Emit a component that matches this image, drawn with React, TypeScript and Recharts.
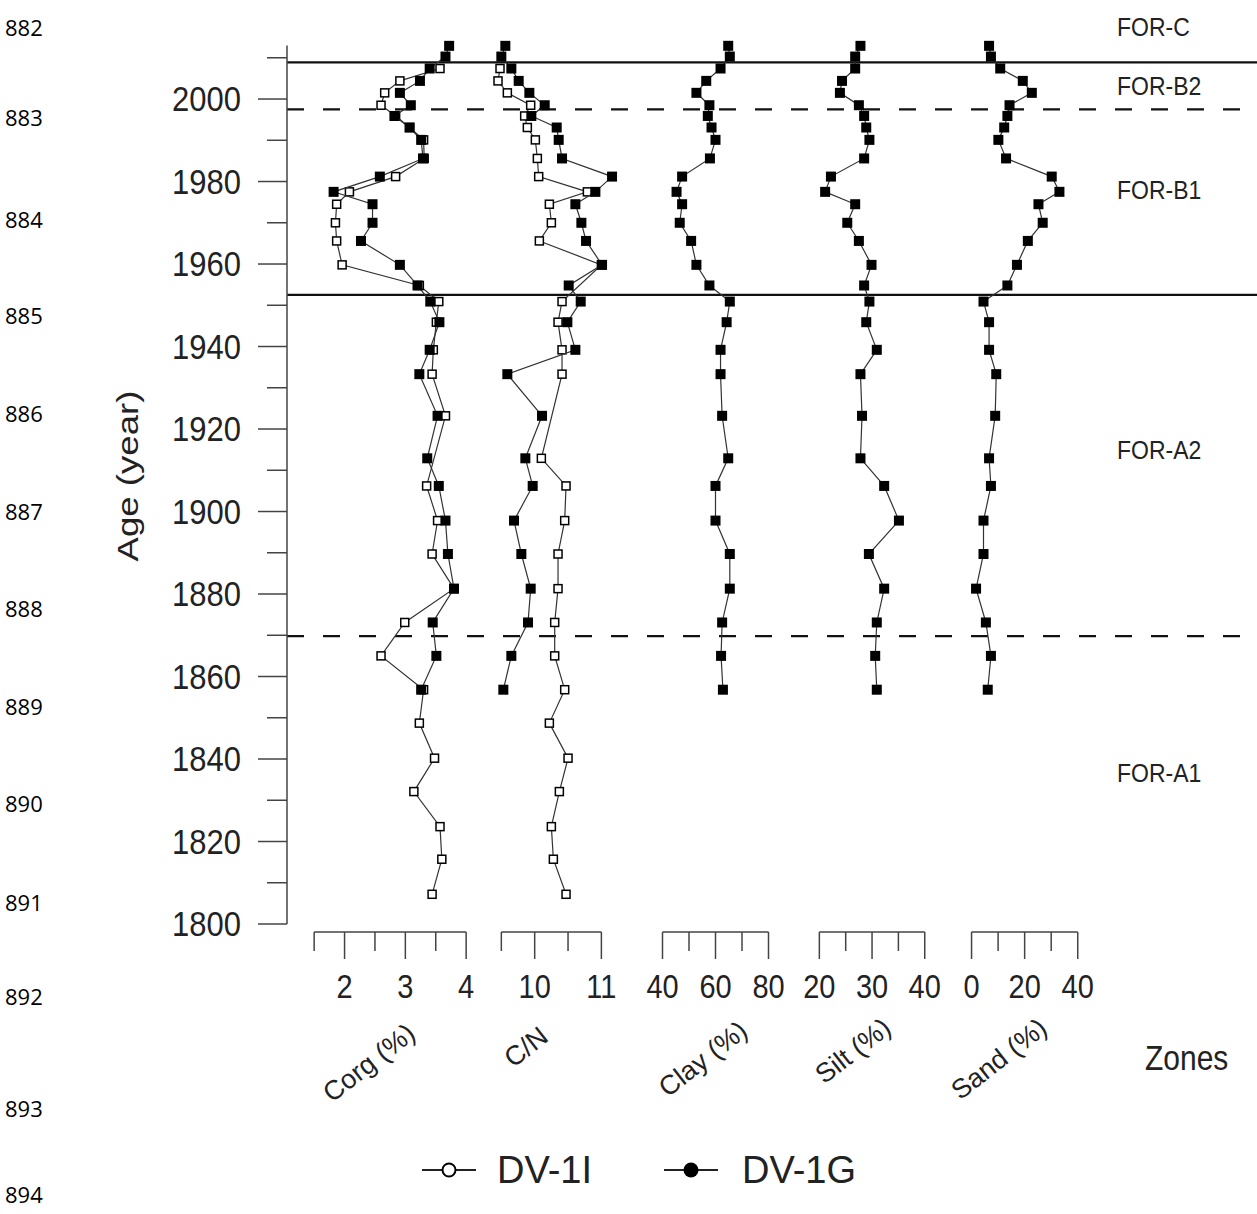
import React from 'react'
import { ScatterChart, Scatter, XAxis, YAxis, ReferenceLine } from 'recharts'

// ages (yr AD) of DV-1G samples, same for all five panels
const ageG = [2012.9, 2010.3, 2007.4, 2004.4, 2001.5, 1998.5, 1995.9, 1993.1, 1990.1, 1985.6, 1981.2, 1977.5, 1974.5, 1970.0, 1965.6, 1959.8, 1954.8, 1950.9, 1945.9, 1939.2, 1933.3, 1923.2, 1912.9, 1906.2, 1897.8, 1889.7, 1881.3, 1873.1, 1865.0, 1856.8]
const corgG = [3.72, 3.66, 3.40, 3.24, 2.91, 3.09, 2.82, 3.07, 3.26, 3.29, 2.58, 1.82, 2.46, 2.46, 2.27, 2.91, 3.20, 3.41, 3.56, 3.40, 3.23, 3.53, 3.36, 3.55, 3.66, 3.70, 3.80, 3.45, 3.51, 3.26]
const cnG = [9.56, 9.50, 9.65, 9.76, 9.92, 10.15, 9.95, 10.33, 10.36, 10.41, 11.16, 10.91, 10.61, 10.70, 10.77, 11.01, 10.51, 10.69, 10.49, 10.61, 9.59, 10.11, 9.86, 9.97, 9.69, 9.80, 9.94, 9.90, 9.65, 9.53]
const clayG = [64.8, 65.4, 61.9, 56.5, 52.8, 57.7, 57.1, 58.5, 60.0, 57.9, 47.4, 45.3, 47.4, 46.5, 50.8, 52.8, 57.7, 65.4, 64.2, 61.9, 61.9, 62.5, 64.8, 60.0, 60.0, 65.4, 65.4, 62.5, 62.1, 62.8]
const siltG = [27.8, 26.8, 26.8, 24.3, 23.9, 27.5, 28.5, 28.9, 29.5, 28.5, 22.2, 21.1, 26.8, 25.3, 27.5, 29.9, 28.5, 29.5, 28.9, 30.9, 27.8, 28.1, 27.8, 32.3, 35.1, 29.4, 32.3, 30.9, 30.6, 30.9]
const sandG = [6.6, 7.3, 10.8, 19.3, 22.7, 14.3, 13.5, 12.3, 10.1, 13.0, 30.2, 33.1, 25.2, 26.8, 21.2, 17.1, 13.5, 4.5, 6.6, 6.6, 9.3, 8.9, 6.6, 7.3, 4.5, 4.5, 1.7, 5.4, 7.3, 6.1]

// DV-1I core (Corg and C/N only)
const ageICorg = [2007.4, 2004.4, 2001.5, 1998.5, 1995.9, 1993.1, 1990.1, 1985.6, 1981.2, 1977.5, 1974.5, 1970.0, 1965.6, 1959.8, 1954.8, 1950.9, 1945.9, 1939.2, 1933.3, 1923.2, 1906.2, 1897.8, 1889.7, 1881.3, 1873.1, 1865.0, 1856.8, 1848.7, 1840.2, 1832.1, 1823.6, 1815.7, 1807.2]
const corgI = [3.57, 2.91, 2.66, 2.60, 2.84, 3.07, 3.30, 3.31, 2.84, 2.08, 1.87, 1.85, 1.87, 1.96, 3.23, 3.55, 3.51, 3.46, 3.44, 3.66, 3.35, 3.53, 3.44, 3.80, 2.99, 2.60, 3.30, 3.23, 3.48, 3.14, 3.57, 3.60, 3.44]
const ageICn = [2007.4, 2004.4, 2001.5, 1998.5, 1995.9, 1993.1, 1990.1, 1985.6, 1981.2, 1977.5, 1974.5, 1970.0, 1965.6, 1959.8, 1950.9, 1945.9, 1939.2, 1933.3, 1912.9, 1906.2, 1897.8, 1889.7, 1881.3, 1873.1, 1865.0, 1856.8, 1848.7, 1840.2, 1832.1, 1823.6, 1815.7, 1807.2]
const cnI = [9.48, 9.45, 9.59, 9.94, 9.85, 9.89, 10.01, 10.04, 10.06, 10.79, 10.22, 10.25, 10.07, 11.00, 10.41, 10.35, 10.41, 10.41, 10.10, 10.47, 10.45, 10.35, 10.35, 10.30, 10.30, 10.45, 10.22, 10.50, 10.37, 10.25, 10.28, 10.47]

const ageTicks = [1800, 1810, 1820, 1830, 1840, 1850, 1860, 1870, 1880, 1890, 1900, 1910, 1920, 1930, 1940, 1950, 1960, 1970, 1980, 1990, 2000, 2010]
const ageLabels = [1800, 1820, 1840, 1860, 1880, 1900, 1920, 1940, 1960, 1980, 2000]

const zoneBounds = [2008.9, 1997.5, 1952.5, 1869.8]
const zoneDashed = [false, true, false, true]
const zoneNames = ['FOR-C', 'FOR-B2', 'FOR-B1', 'FOR-A2', 'FOR-A1']
const lineNumbers = [882, 883, 884, 885, 886, 887, 888, 889, 890, 891, 892, 893, 894]

const W = 1257
const H = 1214
const FONT = "'Liberation Sans', Arial, Helvetica, sans-serif"
const INK = '#222'
const AXIS = '#444'
const STRETCH = 1.15 // figure text looks taller than wide

const PX_YEAR = 4.125
const AGE_TOP = 2013
const PLOT_TOP = 45.4
const PLOT_BOTTOM = 924
const PANEL_BOTTOM = 932 // bottom axes sit a little below the age axis end
const PANEL_AGE_MIN = 1800 - (PANEL_BOTTOM - PLOT_BOTTOM) / PX_YEAR

// panel layout: pixel of a reference value, pixels per unit, drawn domain
const panels = [
  { key: 'corg', title: 'Corg (%)', ref: 2, refPx: 345, pxUnit: 60.8, lo: 1.3, hi: 4.3, ticks: [1.5, 2, 2.5, 3, 3.5, 4], labels: [2, 3, 4], g: corgG, iAge: ageICorg, i: corgI, tx: 369, ty: 1063 },
  { key: 'cn', title: 'C/N', ref: 10, refPx: 534.3, pxUnit: 66.7, lo: 9.3, hi: 11.4, ticks: [9.5, 10, 10.5, 11], labels: [10, 11], g: cnG, iAge: ageICn, i: cnI, tx: 526, ty: 1047 },
  { key: 'clay', title: 'Clay (%)', ref: 40, refPx: 662, pxUnit: 2.65, lo: 30, hi: 90, ticks: [40, 50, 60, 70, 80], labels: [40, 60, 80], g: clayG, tx: 703, ty: 1059 },
  { key: 'silt', title: 'Silt (%)', ref: 20, refPx: 819, pxUnit: 5.27, lo: 15, hi: 45, ticks: [20, 25, 30, 35, 40], labels: [20, 30, 40], g: siltG, tx: 853, ty: 1051 },
  { key: 'sand', title: 'Sand (%)', ref: 0, refPx: 971.4, pxUnit: 2.655, lo: -10, hi: 50, ticks: [0, 10, 20, 30, 40], labels: [0, 20, 40], g: sandG, tx: 999, ty: 1059 },
]

const pairs = (ages: number[], vals: number[]) => ages.map((age, k) => ({ age, v: vals[k] }))

const FilledSquare = (p: any) => (
  <rect x={p.cx - 5} y={p.cy - 5} width={10} height={10} fill="#000" />
)
const OpenSquare = (p: any) => (
  <rect x={p.cx - 4} y={p.cy - 4} width={8} height={8} fill="#fff" stroke="#000" strokeWidth={1.5} />
)

const AgeTick = ({ x, y, payload }: any) => {
  const major = ageLabels.includes(payload.value)
  return (
    <g>
      <line x1={x - (major ? 29 : 20)} x2={x} y1={y} y2={y} stroke={AXIS} strokeWidth={1.5} />
      {major && (
        <text transform={`translate(${x - 46} ${y}) scale(1 ${STRETCH})`} textAnchor="end" dominantBaseline="central" fontFamily={FONT} fontSize={31} fill={INK}>
          {payload.value}
        </text>
      )}
    </g>
  )
}

const makeBottomTick = (labels: number[]) => ({ x, y, payload }: any) => {
  const major = labels.includes(payload.value)
  return (
    <g>
      <line x1={x} x2={x} y1={y} y2={y + (major ? 27 : 19)} stroke={AXIS} strokeWidth={1.5} />
      {major && (
        <text transform={`translate(${x} ${y + 55}) scale(1 ${STRETCH})`} textAnchor="middle" dominantBaseline="central" fontFamily={FONT} fontSize={29} fill={INK}>
          {payload.value}
        </text>
      )}
    </g>
  )
}

function Panel({ p }: { p: typeof panels[number] }) {
  const left = p.refPx - (p.ref - p.lo) * p.pxUnit
  const width = (p.hi - p.lo) * p.pxUnit
  const xAxisH = 80
  return (
    <div style={{ position: 'absolute', left, top: 0 }}>
      <ScatterChart width={width} height={H} margin={{ top: PLOT_TOP, right: 0, bottom: H - PANEL_BOTTOM - xAxisH, left: 0 }}>
        <XAxis
          type="number"
          dataKey="v"
          domain={[p.lo, p.hi]}
          ticks={p.ticks}
          interval={0}
          axisLine={false}
          tickLine={false}
          tickSize={0}
          tickMargin={0}
          height={xAxisH}
          tick={makeBottomTick(p.labels)}
        />
        <YAxis type="number" dataKey="age" domain={[PANEL_AGE_MIN, AGE_TOP]} hide />
        <ReferenceLine
          segment={[{ x: p.ticks[0], y: PANEL_AGE_MIN }, { x: p.ticks[p.ticks.length - 1], y: PANEL_AGE_MIN }]}
          stroke={AXIS}
          strokeWidth={1.5}
          ifOverflow="visible"
        />
        {p.i && (
          <Scatter
            data={pairs(p.iAge, p.i)}
            line={{ stroke: '#333', strokeWidth: 1.2 }}
            lineType="joint"
            shape={OpenSquare}
            isAnimationActive={false}
          />
        )}
        <Scatter
          data={pairs(ageG, p.g)}
          line={{ stroke: '#333', strokeWidth: 1.2 }}
          lineType="joint"
          shape={FilledSquare}
          isAnimationActive={false}
        />
      </ScatterChart>
    </div>
  )
}

const zoneLabelY = [27, 86, 190, 450, 773]
const lineNumberY = [27, 117, 219, 315, 413, 511, 608, 706, 803, 902, 996, 1108, 1194]

export default function App() {
  return (
    <div style={{ position: 'absolute', left: 0, top: 0, width: W, height: H, background: '#fff' }}>
      <div style={{ position: 'absolute', left: 0, top: 0 }}>
        <ScatterChart width={W} height={H} margin={{ top: PLOT_TOP, right: 0, bottom: H - PLOT_BOTTOM, left: 0 }}>
          <XAxis type="number" dataKey="v" domain={[0, 1]} allowDataOverflow hide />
          <YAxis
            type="number"
            dataKey="age"
            domain={[1800, AGE_TOP]}
            allowDataOverflow
            ticks={ageTicks}
            interval={0}
            width={287}
            stroke={AXIS}
            strokeWidth={1.5}
            tickLine={false}
            tickSize={0}
            tickMargin={0}
            tick={AgeTick}
          />
          {zoneBounds.map((y, k) => (
            <ReferenceLine
              key={y}
              y={y}
              stroke="#111"
              strokeWidth={2.2}
              strokeDasharray={zoneDashed[k] ? '17 19' : undefined}
              ifOverflow="visible"
            />
          ))}
        </ScatterChart>
      </div>

      {panels.map((p) => (
        <Panel key={p.key} p={p} />
      ))}

      <svg width={W} height={H} style={{ position: 'absolute', left: 0, top: 0, pointerEvents: 'none' }}>
        {lineNumbers.map((n, k) => (
          <text key={n} x={5} y={lineNumberY[k]} dominantBaseline="central" fontFamily="'Open Sans', sans-serif" fontSize={22} fill="#000">
            {n}
          </text>
        ))}
        <text transform="translate(128 476) scale(1 1.22) rotate(-90)" textAnchor="middle" dominantBaseline="central" fontFamily={FONT} fontSize={30} fill={INK}>
          Age (year)
        </text>
        {zoneNames.map((z, k) => (
          <text key={z} transform={`translate(1117 ${zoneLabelY[k]}) scale(1 ${STRETCH})`} dominantBaseline="central" fontFamily={FONT} fontSize={23} fill={INK}>
            {z}
          </text>
        ))}
        {panels.map((p) => (
          <text key={p.key} transform={`translate(${p.tx} ${p.ty}) rotate(-38)`} textAnchor="middle" dominantBaseline="central" fontFamily={FONT} fontSize={27} fill={INK}>
            {p.title}
          </text>
        ))}
        <text transform={`translate(1145 1058) scale(1 ${STRETCH})`} dominantBaseline="central" fontFamily={FONT} fontSize={30} fill={INK}>Zones</text>

        <line x1={422} x2={476} y1={1170} y2={1170} stroke="#222" strokeWidth={2} />
        <circle cx={449} cy={1170} r={6.5} fill="#fff" stroke="#000" strokeWidth={2} />
        <text x={497} y={1170} dominantBaseline="central" fontFamily={FONT} fontSize={38} fill={INK}>DV-1I</text>
        <line x1={664} x2={718} y1={1170} y2={1170} stroke="#222" strokeWidth={2} />
        <circle cx={691} cy={1170} r={7.5} fill="#000" />
        <text x={742} y={1170} dominantBaseline="central" fontFamily={FONT} fontSize={38} fill={INK}>DV-1G</text>
      </svg>
    </div>
  )
}
